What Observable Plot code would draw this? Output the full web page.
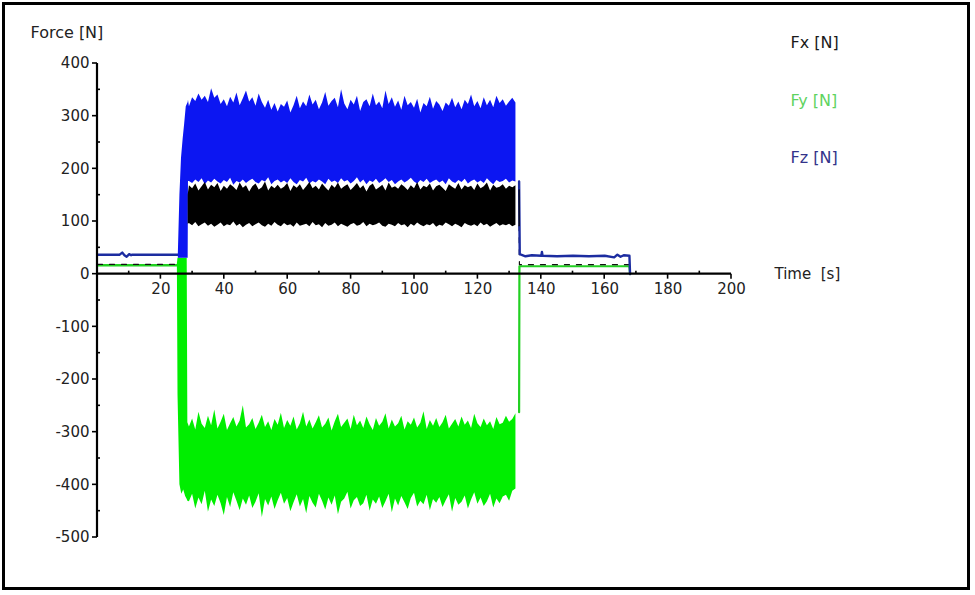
<!DOCTYPE html>
<html>
<head>
<meta charset="utf-8">
<script src="https://cdn.jsdelivr.net/npm/d3@7"></script>
<script src="https://cdn.jsdelivr.net/npm/@observablehq/plot@0.6"></script>
<style>
  html, body { margin: 0; padding: 0; background: #fff; }
  #wrap { position: relative; width: 975px; height: 595px; overflow: hidden; }
  #border { position: absolute; left: 2px; top: 2px; width: 968px; height: 588px; box-sizing: border-box; border: 3.5px solid #000; pointer-events: none; }
</style>
</head>
<body>
<div id="wrap"><div id="border"></div></div>
<script>
// ---- tick definitions ----
const xMajor = [20, 40, 60, 80, 100, 120, 140, 160, 180, 200];
const xMinor = [10, 30, 50, 70, 90, 110, 130, 150, 170, 190];
const yMajor = [400, 300, 200, 100, 0, -100, -200, -300, -400, -500];
const yMinor = [350, 250, 150, 50, -50, -150, -250, -350, -450];

// ---- sampled band (noisy load phase), one sample per second from t = 29 s ----
const bandStart = 29;
const fzHi = [318,335,328,342,330,338,326,352,334,340, 322,331,318,336,325,344,320,333,348,327,
  335,319,342,326,315,330,311,324,308,322, 317,329,306,320,338,314,327,318,340,321,
  330,312,325,345,319,328,334,316,350,323, 312,330,321,338,309,326,331,318,342,320,
  327,314,348,322,335,317,329,311,338,320, 326,315,332,306,324,318,336,313,328,321,
  309,325,319,334,316,327,312,330,322,340, 318,328,314,335,320,330,316,338,324,331,
  319,327,334,325];
const fzLo = [176,172,179,174,181,170,177,173,180,175, 171,178,174,182,169,176,173,179,172,177,
  180,174,171,178,175,183,170,176,179,173, 177,172,181,174,170,178,175,182,171,176,
  173,179,175,170,180,174,177,172,181,175, 178,171,176,183,173,179,170,177,174,180,
  172,176,181,174,178,170,175,179,173,177, 182,175,171,178,174,180,172,176,179,173,
  177,170,181,175,172,178,174,180,171,176, 179,173,177,172,181,175,170,178,174,176,
  180,173,177,175];
const fxHi = [168,162,171,158,166,174,160,169,164,172, 157,167,161,170,165,159,173,163,168,156,
  166,171,160,164,175,158,167,162,169,161, 165,172,157,168,163,170,159,166,174,162,
  167,160,171,164,158,169,163,173,161,166, 170,159,165,172,162,168,156,167,171,160,
  164,169,158,173,163,166,161,170,165,159, 168,162,174,160,167,164,171,158,166,169,
  163,157,170,165,161,172,160,168,164,167, 159,171,162,166,173,158,169,163,165,170,
  161,167,164,168];
const fxLo = [96,92,98,90,94,97,91,95,89,93, 97,90,94,92,99,91,95,88,93,96,
  90,94,97,92,89,95,91,98,93,90, 96,92,94,89,97,91,93,95,90,98,
  92,94,88,96,91,93,97,90,95,92, 89,94,96,91,93,98,90,95,92,94,
  97,91,89,95,93,90,96,92,94,88, 95,91,97,93,90,94,92,96,89,93,
  91,97,94,90,95,92,88,96,93,91, 94,90,97,92,95,89,93,96,91,94,
  92,95,90,93];
const fyHi = [-290,-275,-296,-262,-285,-293,-270,-288,-258,-294, -281,-266,-297,-284,-272,-290,-279,-250,-292,-286,
  -274,-295,-283,-268,-291,-280,-297,-276,-287,-264, -293,-278,-289,-271,-296,-284,-262,-290,-277,-294,
  -282,-269,-292,-285,-273,-298,-280,-266,-291,-283, -275,-295,-268,-288,-279,-293,-271,-286,-297,-274,
  -289,-281,-265,-294,-277,-290,-284,-270,-296,-280, -287,-273,-292,-283,-261,-295,-278,-289,-274,-291,
  -282,-268,-294,-285,-276,-290,-271,-287,-279,-293, -266,-284,-291,-275,-288,-280,-295,-272,-286,-283,
  -270,-281,-276,-265];
const fyLo = [-432,-418,-446,-425,-438,-412,-452,-429,-441,-420, -436,-458,-424,-443,-415,-431,-449,-427,-439,-421,
  -445,-433,-417,-462,-428,-440,-423,-447,-430,-416, -437,-426,-451,-434,-419,-442,-428,-455,-422,-435,
  -444,-418,-431,-448,-425,-439,-421,-457,-433,-427, -414,-446,-430,-424,-441,-436,-420,-450,-429,-437,
  -423,-445,-432,-418,-453,-427,-440,-422,-434,-447, -426,-416,-442,-431,-438,-420,-449,-428,-435,-424,
  -443,-430,-419,-452,-426,-439,-433,-421,-446,-429, -415,-437,-425,-441,-432,-418,-444,-427,-436,-423,
  -420,-431,-412,-408];

// ---- rise at the start of loading ----
const fzRampT  = [25.5, 26, 26.5, 27, 27.5, 28, 28.6, 28.7];
const fzRampHi = [38, 150, 220, 255, 285, 318, 326, 330];
const fzRampLo = [30, 30, 30, 30, 30, 30, 30, 176];
const fyRampT  = [25.2, 25.4, 26, 26.6, 27.2, 27.8, 28.3, 28.5];
const fyRampHi = [20, 30, 30, 30, 30, 30, 30, -282];
const fyRampLo = [15, -230, -400, -418, -410, -422, -428, -431];
const fxRampT  = [28.6];
const fxRampHi = [150];
const fxRampLo = [95];

// ---- quiet phases (before / after loading) ----
const fzPreT = [0, 7, 7.8, 8.5, 9.2, 10, 10.6, 11, 18, 25.5];
const fzPreV = [37, 37, 41, 36, 33, 38, 36, 37, 37, 37];
const fyPreT = [0, 25.2];
const fyPreV = [17, 17];
const fxPreT = [0, 25.5];
const fxPreV = [18.5, 18.5];

const fzPostT = [133, 133.2, 135, 137, 140, 140.2, 140.4, 145, 150, 155, 160, 163, 164, 165, 166, 167.8, 168];
const fzPostV = [176, 38, 34, 36, 35, 42, 35, 34, 35, 34, 35, 32, 37, 33, 36, 35, 0];
const fyPostT = [133, 133.1, 167.8, 168];
const fyPostV = [-262, 15, 15, 0];
const fxPostT = [133, 133.1, 167.8, 168];
const fxPostV = [92, 18, 18, 0];

// ---- colours ----
const cFz = "#0c16f2", cFzLine = "#1c2ca0";
const cFy = "#00ee00", cFyLine = "#22d022";
const cFx = "#000000";

// ---- build tables ----
function band(rt, rhi, rlo, hi, lo) {
  const rows = rt.map((t, i) => ({t, hi: rhi[i], lo: rlo[i]}));
  hi.forEach((h, i) => rows.push({t: bandStart + i, hi: h, lo: lo[i]}));
  return rows;
}
const line = (T, V) => T.map((t, i) => ({t, v: V[i]}));

const fzBand = band(fzRampT, fzRampHi, fzRampLo, fzHi, fzLo);
const fyBand = band(fyRampT, fyRampHi, fyRampLo, fyHi, fyLo);
const fxBand = band(fxRampT, fxRampHi, fxRampLo, fxHi, fxLo);

const font = "'DejaVu Sans', 'Liberation Sans', Arial, sans-serif";

function tickMarks(index, scales) {
  const {x, y} = scales;
  const g = d3.create("svg:g").attr("stroke", "#000").attr("stroke-width", 1.6);
  g.append("line").attr("x1", x(0)).attr("x2", x(0)).attr("y1", y(400)).attr("y2", y(-500)).attr("stroke-width", 2.2);
  g.append("line").attr("x1", x(0)).attr("x2", x(200)).attr("y1", y(0)).attr("y2", y(0)).attr("stroke-width", 2.2);
  for (const t of xMajor) g.append("line").attr("x1", x(t)).attr("x2", x(t)).attr("y1", y(0)).attr("y2", y(0) + 5);
  for (const t of xMinor) g.append("line").attr("x1", x(t)).attr("x2", x(t)).attr("y1", y(0)).attr("y2", y(0) - 3);
  for (const v of yMajor) g.append("line").attr("x1", x(0) - 5).attr("x2", x(0)).attr("y1", y(v)).attr("y2", y(v));
  for (const v of yMinor) g.append("line").attr("x1", x(0)).attr("x2", x(0) + 3).attr("y1", y(v)).attr("y2", y(v));
  return g.node();
}

const chart = Plot.plot({
  width: 975,
  height: 595,
  marginLeft: 97,
  marginRight: 244,
  marginTop: 63,
  marginBottom: 58,
  style: {fontFamily: font, fontSize: "15px", background: "transparent", overflow: "visible"},
  x: {domain: [0, 200], axis: null},
  y: {domain: [-500, 400], axis: null},
  marks: [
    // Fy (green) with Fx baseline
    Plot.line(line(fyPreT, fyPreV), {x: "t", y: "v", stroke: cFyLine, strokeWidth: 2.4}),
    Plot.line(line(fxPreT, fxPreV), {x: "t", y: "v", stroke: "#111", strokeWidth: 1.2, strokeDasharray: "5,7"}),
    Plot.areaY(fyBand, {x: "t", y1: "lo", y2: "hi", fill: cFy}),
    Plot.line(line(fyPostT, fyPostV), {x: "t", y: "v", stroke: cFyLine, strokeWidth: 2.2}),
    Plot.line(line(fxPostT, fxPostV), {x: "t", y: "v", stroke: "#111", strokeWidth: 1.2, strokeDasharray: "5,7"}),
    // Fz (blue)
    Plot.line(line(fzPreT, fzPreV), {x: "t", y: "v", stroke: cFzLine, strokeWidth: 2.4}),
    Plot.areaY(fzBand, {x: "t", y1: "lo", y2: "hi", fill: cFz}),
    Plot.line(line(fzPostT, fzPostV), {x: "t", y: "v", stroke: cFzLine, strokeWidth: 2.4}),
    // Fx (black)
    Plot.areaY(fxBand, {x: "t", y1: "lo", y2: "hi", fill: cFx}),
    Plot.line([{t: 133, v: 160}, {t: 133, v: 92}], {x: "t", y: "v", stroke: cFx, strokeWidth: 1.2}),
    // axes
    tickMarks,
    Plot.text(xMajor, {x: d => d, y: 0, dy: 15, text: d => String(d), fill: "#222", fontSize: 15}),
    Plot.text(yMajor, {x: 0, y: d => d, dx: -8, textAnchor: "end", text: d => String(d), fill: "#222", fontSize: 15}),
    Plot.text(["Time  [s]"], {x: 200, y: 0, dx: 43, textAnchor: "start", fill: "#222", fontSize: 15, text: d => d}),
    Plot.text(["Force [N]"], {frameAnchor: "top-left", dx: -67, dy: -37, textAnchor: "start", fill: "#222", fontSize: 16, text: d => d}),
    // legend labels
    Plot.text(["Fx [N]"], {frameAnchor: "top-right", dx: 59, dy: -16, lineAnchor: "bottom", textAnchor: "start", fill: "#1a1a1a", fontSize: 16, text: d => d}),
    Plot.text(["Fy [N]"], {frameAnchor: "top-right", dx: 59, dy: 42, lineAnchor: "bottom", textAnchor: "start", fill: "#5fd35f", fontSize: 16, text: d => d}),
    Plot.text(["Fz [N]"], {frameAnchor: "top-right", dx: 59, dy: 99, lineAnchor: "bottom", textAnchor: "start", fill: "#33338a", fontSize: 16, text: d => d})
  ]
});
document.getElementById("wrap").insertBefore(chart, document.getElementById("border"));
</script>
</body>
</html>
